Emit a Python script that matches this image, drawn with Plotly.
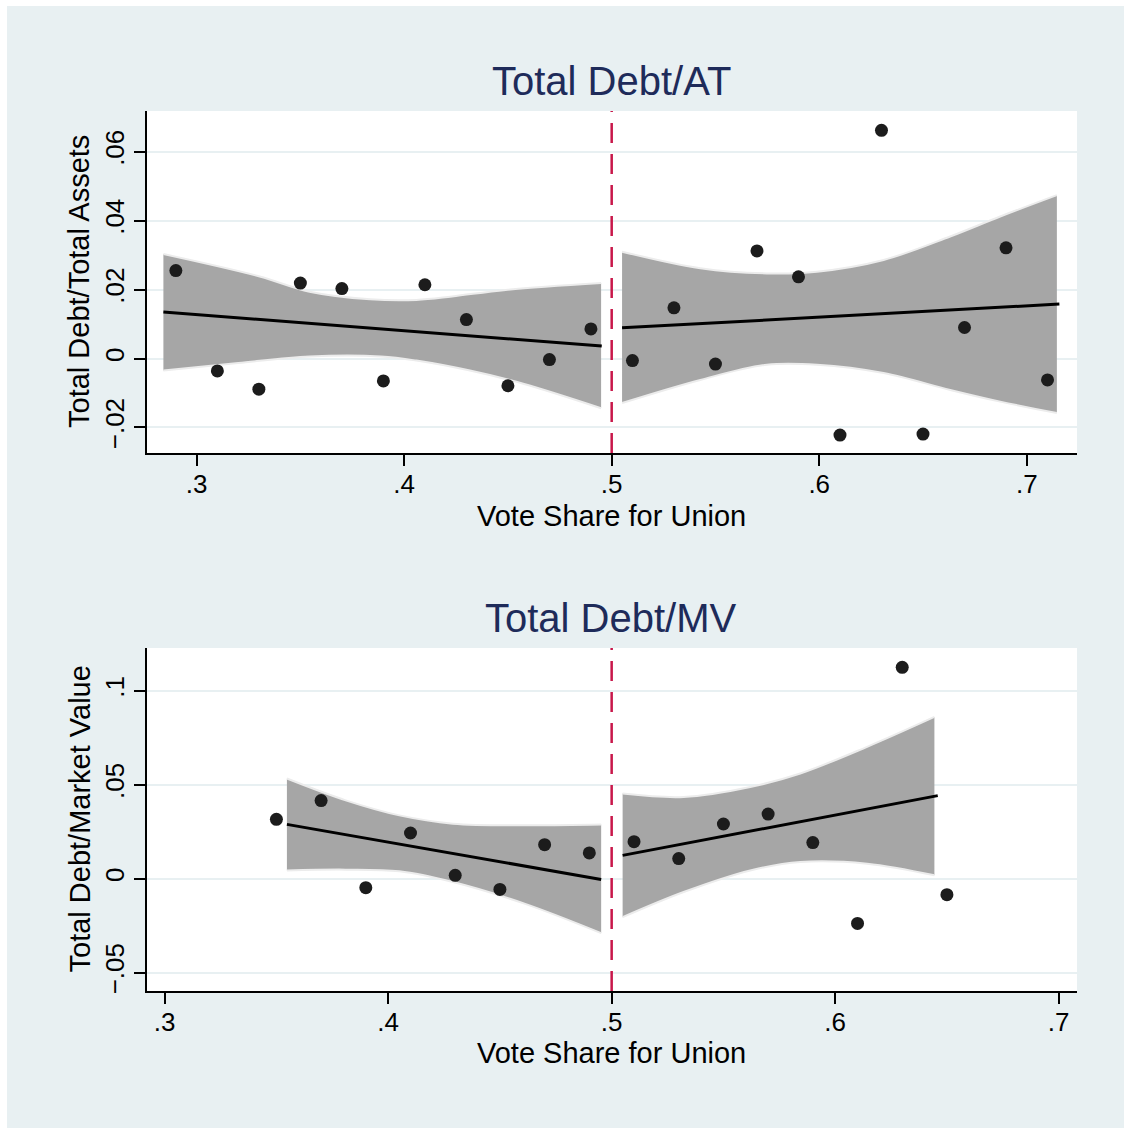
import plotly.graph_objects as go

# ---------------- data ----------------
# Panel 1: Total Debt/AT
at_left_x = [0.29, 0.31, 0.33, 0.35, 0.37, 0.39, 0.41, 0.43, 0.45, 0.47, 0.49]
at_left_y = [0.0255, -0.0036, -0.0089, 0.0219, 0.0203, -0.0065, 0.0214, 0.0113, -0.0079, -0.0003, 0.0086]
at_right_x = [0.51, 0.53, 0.55, 0.57, 0.59, 0.61, 0.63, 0.65, 0.67, 0.69, 0.71]
at_right_y = [-0.0006, 0.0147, -0.0016, 0.0312, 0.0237, -0.0222, 0.0662, -0.0219, 0.0090, 0.0321, -0.0062]

at_left_fit_x = [0.284, 0.4952]
at_left_fit_y = [0.0135, 0.0036]
at_right_fit_x = [0.505, 0.7157]
at_right_fit_y = [0.0089, 0.0158]

at_left_ci_x = [0.284, 0.3304, 0.3544, 0.3836, 0.4059, 0.4231, 0.4489, 0.4949]
at_left_ci_hi = [0.0303, 0.0238, 0.0194, 0.0172, 0.0170, 0.0180, 0.0199, 0.0219]
at_left_cilo_x = [0.284, 0.3201, 0.3544, 0.3888, 0.4059, 0.4317, 0.4574, 0.4949]
at_left_ci_lo = [-0.0035, -0.0013, 0.0006, 0.0006, -0.0006, -0.0035, -0.0073, -0.0144]

at_right_ci_x = [0.505, 0.5427, 0.5748, 0.5989, 0.631, 0.6631, 0.6872, 0.7145]
at_right_ci_hi = [0.0310, 0.0262, 0.0247, 0.0252, 0.0286, 0.0354, 0.0412, 0.0474]
at_right_ci_lo = [-0.0129, -0.0062, -0.0018, -0.0018, -0.0042, -0.0091, -0.0125, -0.0158]

# Panel 2: Total Debt/MV
mv_left_x = [0.35, 0.37, 0.39, 0.41, 0.43, 0.45, 0.47, 0.49]
mv_left_y = [0.0316, 0.0416, -0.0048, 0.0243, 0.0018, -0.0057, 0.0181, 0.0137]
mv_right_x = [0.51, 0.53, 0.55, 0.57, 0.59, 0.61, 0.63, 0.65]
mv_right_y = [0.0197, 0.0107, 0.0291, 0.0344, 0.0192, -0.0238, 0.1125, -0.0085]

mv_left_fit_x = [0.3547, 0.4953]
mv_left_fit_y = [0.0289, -0.0004]
mv_right_fit_x = [0.5049, 0.6459]
mv_right_fit_y = [0.0124, 0.0442]

mv_left_ci_x = [0.3547, 0.381, 0.405, 0.429, 0.461, 0.4953]
mv_left_ci_hi = [0.0533, 0.0417, 0.0337, 0.0293, 0.0284, 0.0288]
mv_left_ci_lo = [0.0044, 0.0048, 0.0039, -0.0018, -0.0133, -0.0290]

mv_right_ci_x = [0.5049, 0.5322, 0.562, 0.5844, 0.6143, 0.6444]
mv_right_ci_hi = [0.0453, 0.0435, 0.0488, 0.0560, 0.0702, 0.0861]
mv_right_ci_lo = [-0.0205, -0.0071, 0.0044, 0.0089, 0.0080, 0.0018]

x_tickvals = [0.3, 0.4, 0.5, 0.6, 0.7]
x_ticktext = [".3", ".4", ".5", ".6", ".7"]
at_tickvals = [-0.02, 0, 0.02, 0.04, 0.06]
at_ticktext = ["\u2212.02", "0", ".02", ".04", ".06"]
mv_tickvals = [-0.05, 0, 0.05, 0.1]
mv_ticktext = ["\u2212.05", "0", ".05", ".1"]

titles = ["Total Debt/AT", "Total Debt/MV"]
y_titles = ["Total Debt/Total Assets", "Total Debt/Market Value"]
x_title = "Vote Share for Union"
cutoff = 0.5

# ---------------- styling ----------------
BG = "#E8F0F2"
BAND = "#A6A6A6"
BAND_EDGE = "#ECECEC"
DOT = "#1C1C1C"
RED = "#C8174A"
TITLE_C = "#1E2B5A"
FONT = "Liberation Sans, Arial, sans-serif"

fig = go.Figure()


def add_band(x_hi, hi, x_lo, lo, xa, ya):
    fig.add_trace(go.Scatter(x=x_lo, y=lo, mode="lines", line=dict(color=BAND_EDGE, width=2, shape="spline"),
                             xaxis=xa, yaxis=ya, showlegend=False, hoverinfo="skip"))
    fig.add_trace(go.Scatter(x=x_hi, y=hi, mode="lines", line=dict(color=BAND_EDGE, width=2, shape="spline"),
                             fill="tonexty", fillcolor=BAND, xaxis=xa, yaxis=ya, showlegend=False,
                             hoverinfo="skip"))


def add_fit(x, y, xa, ya):
    fig.add_trace(go.Scatter(x=x, y=y, mode="lines", line=dict(color="black", width=3),
                             xaxis=xa, yaxis=ya, showlegend=False))


def add_pts(x, y, xa, ya):
    fig.add_trace(go.Scatter(x=x, y=y, mode="markers", marker=dict(color=DOT, size=13),
                             xaxis=xa, yaxis=ya, showlegend=False))


# panel 1
add_band(at_left_ci_x, at_left_ci_hi, at_left_cilo_x, at_left_ci_lo, "x", "y")
add_band(at_right_ci_x, at_right_ci_hi, at_right_ci_x, at_right_ci_lo, "x", "y")
add_fit(at_left_fit_x, at_left_fit_y, "x", "y")
add_fit(at_right_fit_x, at_right_fit_y, "x", "y")
add_pts(at_left_x, at_left_y, "x", "y")
add_pts(at_right_x, at_right_y, "x", "y")

# panel 2
add_band(mv_left_ci_x, mv_left_ci_hi, mv_left_ci_x, mv_left_ci_lo, "x2", "y2")
add_band(mv_right_ci_x, mv_right_ci_hi, mv_right_ci_x, mv_right_ci_lo, "x2", "y2")
add_fit(mv_left_fit_x, mv_left_fit_y, "x2", "y2")
add_fit(mv_right_fit_x, mv_right_fit_y, "x2", "y2")
add_pts(mv_left_x, mv_left_y, "x2", "y2")
add_pts(mv_right_x, mv_right_y, "x2", "y2")

W, H = 1124, 1128
ML, MR, MT, MB = 147, 47, 111, 137
PW, PH = W - ML - MR, H - MT - MB


def py2paper(py):
    return (H - MB - py) / PH


def px2paper(px):
    return (px - ML) / PW


axis_common = dict(showline=True, linecolor="black", linewidth=2, ticks="outside", ticklen=11,
                   tickwidth=2, tickcolor="black", zeroline=False, mirror=False,
                   tickfont=dict(family=FONT, size=26, color="black"))

fig.update_layout(
    width=W, height=H,
    margin=dict(l=ML, r=MR, t=MT, b=MB),
    paper_bgcolor=BG, plot_bgcolor="white",
    font=dict(family=FONT),
    xaxis=dict(domain=[0, 1], range=[0.2761, 0.7242], tickvals=x_tickvals, ticktext=x_ticktext,
               showgrid=False, anchor="y", ticklabelstandoff=-4, **axis_common),
    yaxis=dict(domain=[py2paper(453), 1], range=[-0.0274, 0.0718], tickvals=at_tickvals,
               ticktext=at_ticktext, tickangle=-90, showgrid=True, gridcolor=BG, gridwidth=2,
               anchor="x", **axis_common),
    xaxis2=dict(domain=[0, 1], range=[0.2921, 0.7082], tickvals=x_tickvals, ticktext=x_ticktext,
                showgrid=False, anchor="y2", ticklabelstandoff=-4, **axis_common),
    yaxis2=dict(domain=[0, py2paper(648)], range=[-0.0598, 0.1228], tickvals=mv_tickvals,
                ticktext=mv_ticktext, tickangle=-90, showgrid=True, gridcolor=BG, gridwidth=2,
                anchor="x2", **axis_common),
    showlegend=False,
)

shapes = []
for xr, yr in (("x", "y domain"), ("x2", "y2 domain")):
    shapes.append(dict(type="line", xref=xr, yref=yr, x0=cutoff, x1=cutoff, y0=0, y1=1,
                       line=dict(color=RED, width=2.5, dash="20px,11px")))
# thin white border at top and left edges of the page
shapes.append(dict(type="rect", xref="paper", yref="paper", x0=px2paper(0), x1=px2paper(W),
                   y0=py2paper(6), y1=py2paper(0), fillcolor="white", line=dict(width=0)))
shapes.append(dict(type="rect", xref="paper", yref="paper", x0=px2paper(0), x1=px2paper(7),
                   y0=py2paper(H), y1=py2paper(0), fillcolor="white", line=dict(width=0)))
fig.update_layout(shapes=shapes)

ann = []
for title, cy in zip(titles, (81, 618)):
    ann.append(dict(text=title, xref="paper", yref="paper", x=px2paper(611), y=py2paper(cy),
                    xanchor="center", yanchor="middle", showarrow=False,
                    font=dict(family=FONT, size=40, color=TITLE_C)))
for cy in (516, 1053):
    ann.append(dict(text=x_title, xref="paper", yref="paper", x=px2paper(611), y=py2paper(cy),
                    xanchor="center", yanchor="middle", showarrow=False,
                    font=dict(family=FONT, size=29, color="black")))
for t, cy in zip(y_titles, (282, 819.5)):
    ann.append(dict(text=t, xref="paper", yref="paper", x=px2paper(79), y=py2paper(cy),
                    xanchor="center", yanchor="middle", textangle=-90, showarrow=False,
                    font=dict(family=FONT, size=29, color="black")))
fig.update_layout(annotations=ann)

fig.write_html("out.html")
